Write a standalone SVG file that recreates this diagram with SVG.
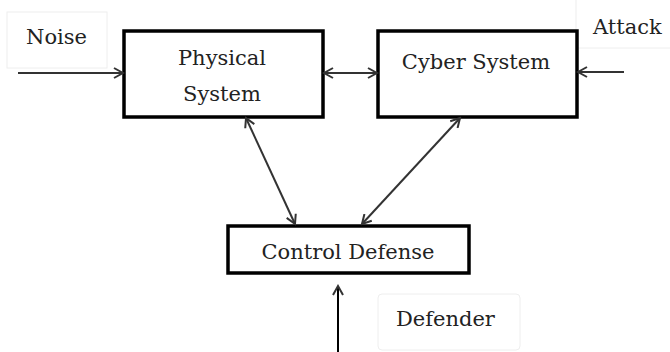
<svg xmlns="http://www.w3.org/2000/svg" width="670" height="352" viewBox="0 0 670 352">
<style>
.box{fill:#fff;stroke:#000;stroke-width:3.5}
.lbl{fill:none;stroke:#eee;stroke-width:1}
.t{font-family:"DejaVu Serif",serif;font-size:21px;fill:#222}
.c{fill:none;stroke:#333;stroke-width:2}
</style>
<defs>
<marker id="a" markerWidth="12" markerHeight="12" refX="10" refY="6" orient="auto-start-reverse" markerUnits="userSpaceOnUse">
<path d="M1,1 L10,6 L1,11" fill="none" stroke="#333" stroke-width="2"/>
</marker>
</defs>
<rect width="670" height="352" fill="#fff"/>
<g id="noise"><rect class="lbl" x="7" y="12" width="100" height="56"/><text class="t" x="26" y="44">Noise</text></g>
<g id="attack"><rect class="lbl" x="576" y="-2" width="100" height="50"/><text class="t" x="593" y="34">Attack</text></g>
<g id="defender"><rect class="lbl" x="378" y="294" width="142" height="56" rx="4"/><text class="t" x="396" y="326">Defender</text></g>
<g id="physical"><rect class="box" x="124" y="31" width="199" height="86"/><text class="t" x="222" y="65" text-anchor="middle">Physical</text><text class="t" x="222" y="101" text-anchor="middle">System</text></g>
<g id="cyber"><rect class="box" x="378" y="31" width="199" height="86"/><text class="t" x="476" y="69" text-anchor="middle">Cyber System</text></g>
<g id="control"><rect class="box" x="228" y="226" width="241" height="47"/><text class="t" x="348" y="259" text-anchor="middle">Control Defense</text></g>
<g id="connectors">
<line class="c" x1="18" y1="73" x2="123" y2="73" marker-end="url(#a)"/>
<line class="c" x1="324" y1="73" x2="377" y2="73" marker-start="url(#a)" marker-end="url(#a)"/>
<line class="c" x1="624" y1="72" x2="578" y2="72" marker-end="url(#a)"/>
<line class="c" x1="246" y1="118" x2="295" y2="224" marker-start="url(#a)" marker-end="url(#a)"/>
<line class="c" x1="460" y1="118" x2="362" y2="224" marker-start="url(#a)" marker-end="url(#a)"/>
<line x1="338" y1="352" x2="338" y2="286" stroke="#000" stroke-width="2" marker-end="url(#a)"/>
</g>
</svg>
